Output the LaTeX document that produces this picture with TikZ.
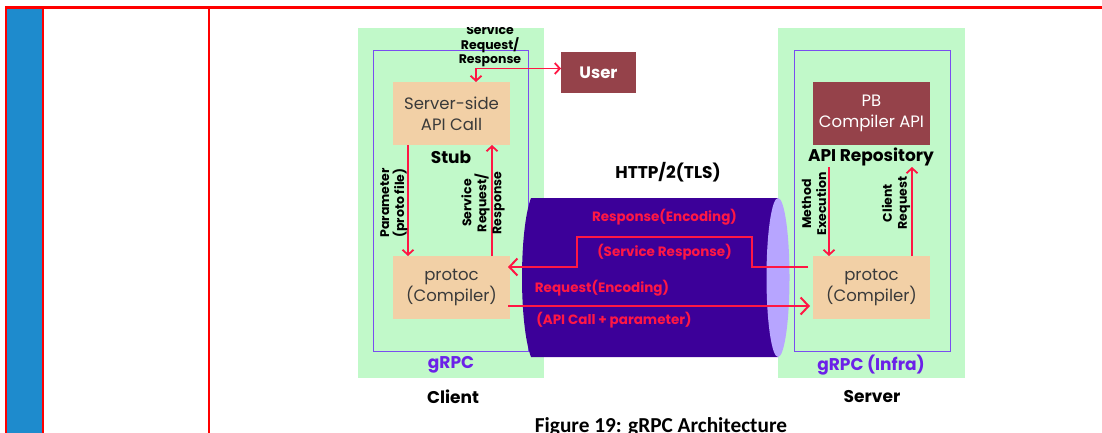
\documentclass[tikz,border=0pt]{standalone}
\usepackage{fontspec}
\setmainfont{Poppins}
\newfontfamily\capfont{Carlito}
\usetikzlibrary{arrows.meta,calc}

\definecolor{mint}{HTML}{C1F9C9}
\definecolor{framevio}{HTML}{7A4DF0}
\definecolor{peach}{HTML}{F2D0A6}
\definecolor{maroon}{HTML}{95424A}
\definecolor{tube}{HTML}{3C0099}
\definecolor{tubecap}{HTML}{B7A5FF}
\definecolor{flowred}{HTML}{FF1744}
\definecolor{grpcvio}{HTML}{6B21E8}
\definecolor{sidebar}{HTML}{1E8BCD}
\definecolor{boxtext}{HTML}{3A3A3A}

\tikzset{tipsm/.tip={Straight Barb[length=5pt,width=11pt]}}

\begin{document}
\begin{tikzpicture}[x=1pt,y=-1pt,
  every node/.style={inner sep=0pt,outer sep=0pt},
  zone/.style={fill=mint,draw=none},
  layer/.style={draw=framevio,line width=1pt},
  unit/.style={fill=peach,text=boxtext,align=center,
    minimum width=117pt,minimum height=63pt,
    font=\fontsize{16.5}{21}\selectfont},
  darkunit/.style={unit,fill=maroon,text=white},
  head/.style={font=\bfseries\fontsize{17}{20}\selectfont},
  zonetag/.style={text=grpcvio,font=\bfseries\fontsize{17}{20}\selectfont},
  side/.style={rotate=90,align=center,font=\bfseries\fontsize{12.5}{15}\selectfont},
  wire/.style={text=flowred,font=\bfseries\fontsize{13.5}{16}\selectfont},
  flow/.style={draw=flowred,line width=2pt,-{Straight Barb[length=8pt,width=17pt]}},
  flowsm/.style={draw=flowred,line width=1.8pt,-tipsm}
]
\useasboundingbox (0,0) rectangle (1102,433);

% page frame of the surrounding table
\fill[sidebar] (7,9) rectangle (42,433);
\draw[red,line width=3pt] (5,8) -- (1102,8);
\draw[red,line width=2.5pt] (6,8) -- (6,433);
\draw[red,line width=2pt] (43,8) -- (43,433);
\draw[red,line width=2pt] (209,8) -- (209,433);

% client and server zones
\node[zone,minimum width=186pt,minimum height=350pt] (czone) at (451,203) {};
\node[layer,minimum width=155pt,minimum height=301pt] (clayer) at (450.5,201) {};
\node[zone,minimum width=187pt,minimum height=350pt] (szone) at (871.5,203) {};
\node[layer,minimum width=156pt,minimum height=301pt] (slayer) at (872,201) {};

% HTTP/2 tube
\fill[tube] (778,198) -- (531,198) .. controls (519,230) and (519,325) .. (531,357) -- (778,357) -- cycle;
\fill[tubecap] (778,277.5) ellipse [x radius=11.5pt,y radius=79.5pt];

% boxes
\node[unit] (api) at (451.5,113.5) {Server-side\\API Call};
\node[unit] (cpc) at (451.5,287.5) {protoc\\(Compiler)};
\node[fill=maroon,text=white,minimum width=75pt,minimum height=41pt,
  font=\bfseries\fontsize{16.5}{20}\selectfont] (user) at (598.5,72.5) {User};
\node[darkunit] (pb) at (871.5,113.5) {PB\\Compiler API};
\node[unit] (spc) at (871.5,287.5) {protoc\\(Compiler)};

% headings
\node[head] (stub) at (451,157) {Stub};
\node[head] (repo) at (871,157) {API Repository};
\node[head] (http) at (668,172) {HTTP/2(TLS)};
\node[zonetag] (ctag) at (451,365) {gRPC};
\node[zonetag] (stag) at (871,365) {gRPC (Infra)};
\node[head] (client) at (453,397) {Client};
\node[head] (server) at (872,397) {Server};

% client stub connectors
\draw[flowsm] ($(api.south west)+(15,0)$) -- ($(cpc.north west)+(15,0)$);
\draw[flowsm] ($(cpc.north east)+(-18,0)$) -- ($(api.south east)+(-18,0)$);
\draw[flowsm,tipsm-tipsm] ($(api.north west)+(83,0)$) |- ($(user.west)+(0,-4)$);
\node[side] (lparam) at (394,203) {Parameter\\(proto file)};
\node[side] (lsvc) at (483,203) {Service\\Request/\\Response};
\begin{scope}
  \clip (380,28) rectangle (600,100);
  \node[align=center,font=\bfseries\fontsize{12.5}{14.5}\selectfont] (ltop) at (490,46) {Service\\Request/\\Response};
\end{scope}

% server connectors
\draw[flowsm] ($(pb.south west)+(16,22)$) -- ($(spc.north west)+(16,0)$);
\draw[flowsm] ($(spc.north east)+(-18,0)$) -- ($(pb.south east)+(-18,22)$);
\node[side] (lmeth) at (814,204) {Method\\Execution};
\node[side] (lclient) at (896,203) {Client\\Request};

% traffic through the tube
\draw[flow] ($(spc.west)+(-5,-20.5)$) -- ++(-56,0) -- ++(0,-30) -- ++(-175,0) -- ++(0,30) -- ($(cpc.east)+(-2,-20.5)$);
\draw[flow] ($(cpc.east)+(-2,18.5)$) -- ($(spc.west)+(-3,18.5)$);
\node[wire] (lresp) at (664.5,217) {Response(Encoding)};
\node[wire] (lsresp) at (664.5,252) {(Service Response)};
\node[wire] (lreq) at (602,288) {Request(Encoding)};
\node[wire] (lcall) at (614,320) {(API Call + parameter)};

% caption
\node[anchor=base,font=\capfont\bfseries\fontsize{21.3}{24}\selectfont] (cap) at (661,432) {Figure 19: gRPC Architecture};
\end{tikzpicture}
\end{document}
